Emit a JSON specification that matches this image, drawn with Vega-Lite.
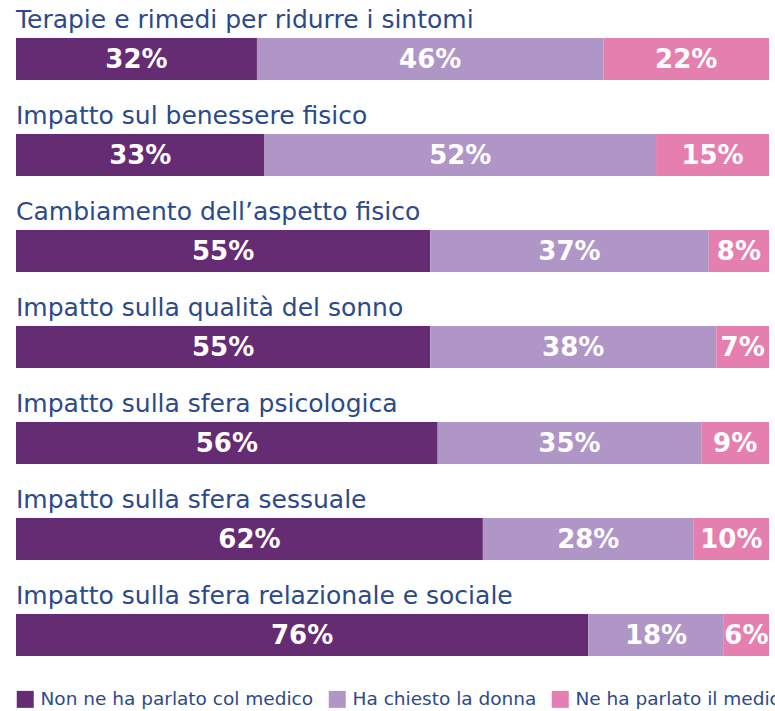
{
  "$schema": "https://vega.github.io/schema/vega-lite/v6.json",
  "width": 753,
  "height": 618,
  "autosize": {"type": "none"},
  "padding": {"left": 16, "top": 38, "right": 6, "bottom": 55},
  "background": "white",
  "data": {"values": [
    {"item": "Terapie e rimedi per ridurre i sintomi", "cat": "Non ne ha parlato col medico", "ord": 1, "value": 0.32},
    {"item": "Terapie e rimedi per ridurre i sintomi", "cat": "Ha chiesto la donna", "ord": 2, "value": 0.46},
    {"item": "Terapie e rimedi per ridurre i sintomi", "cat": "Ne ha parlato il medico", "ord": 3, "value": 0.22},
    {"item": "Impatto sul benessere fisico", "cat": "Non ne ha parlato col medico", "ord": 1, "value": 0.33},
    {"item": "Impatto sul benessere fisico", "cat": "Ha chiesto la donna", "ord": 2, "value": 0.52},
    {"item": "Impatto sul benessere fisico", "cat": "Ne ha parlato il medico", "ord": 3, "value": 0.15},
    {"item": "Cambiamento dell’aspetto fisico", "cat": "Non ne ha parlato col medico", "ord": 1, "value": 0.55},
    {"item": "Cambiamento dell’aspetto fisico", "cat": "Ha chiesto la donna", "ord": 2, "value": 0.37},
    {"item": "Cambiamento dell’aspetto fisico", "cat": "Ne ha parlato il medico", "ord": 3, "value": 0.08},
    {"item": "Impatto sulla qualità del sonno", "cat": "Non ne ha parlato col medico", "ord": 1, "value": 0.55},
    {"item": "Impatto sulla qualità del sonno", "cat": "Ha chiesto la donna", "ord": 2, "value": 0.38},
    {"item": "Impatto sulla qualità del sonno", "cat": "Ne ha parlato il medico", "ord": 3, "value": 0.07},
    {"item": "Impatto sulla sfera psicologica", "cat": "Non ne ha parlato col medico", "ord": 1, "value": 0.56},
    {"item": "Impatto sulla sfera psicologica", "cat": "Ha chiesto la donna", "ord": 2, "value": 0.35},
    {"item": "Impatto sulla sfera psicologica", "cat": "Ne ha parlato il medico", "ord": 3, "value": 0.09},
    {"item": "Impatto sulla sfera sessuale", "cat": "Non ne ha parlato col medico", "ord": 1, "value": 0.62},
    {"item": "Impatto sulla sfera sessuale", "cat": "Ha chiesto la donna", "ord": 2, "value": 0.28},
    {"item": "Impatto sulla sfera sessuale", "cat": "Ne ha parlato il medico", "ord": 3, "value": 0.10},
    {"item": "Impatto sulla sfera relazionale e sociale", "cat": "Non ne ha parlato col medico", "ord": 1, "value": 0.76},
    {"item": "Impatto sulla sfera relazionale e sociale", "cat": "Ha chiesto la donna", "ord": 2, "value": 0.18},
    {"item": "Impatto sulla sfera relazionale e sociale", "cat": "Ne ha parlato il medico", "ord": 3, "value": 0.06}
  ]},
  "transform": [
    {"stack": "value", "groupby": ["item"], "sort": [{"field": "ord", "order": "ascending"}], "as": ["v0", "v1"]},
    {"calculate": "(datum.v0 + datum.v1) / 2", "as": "mid"}
  ],
  "encoding": {
    "y": {"field": "item", "type": "nominal", "sort": null, "axis": null,
          "scale": {"paddingInner": 0.5625, "paddingOuter": 0}}
  },
  "layer": [
    {
      "mark": {"type": "bar"},
      "encoding": {
        "x": {"field": "v0", "type": "quantitative", "axis": null, "scale": {"domain": [0, 1], "nice": false}},
        "x2": {"field": "v1"},
        "color": {"field": "cat", "type": "nominal", "sort": ["Non ne ha parlato col medico", "Ha chiesto la donna", "Ne ha parlato il medico"],
          "scale": {"domain": ["Non ne ha parlato col medico", "Ha chiesto la donna", "Ne ha parlato il medico"], "range": ["#652C74", "#B096C6", "#E57FB0"]},
          "legend": {"title": null, "orient": "bottom", "direction": "horizontal", "symbolType": "square", "symbolSize": 289,
            "symbolStrokeWidth": 0, "labelFontSize": 18.5, "labelFont": "DejaVu Sans", "labelColor": "#2C4A8A", "labelOffset": 6,
            "columnPadding": 14, "offset": 34, "labelLimit": 400, "padding": 0}
        }
      }
    },
    {
      "mark": {"type": "text", "color": "white", "font": "DejaVu Sans", "fontWeight": "bold", "fontSize": 26, "baseline": "middle", "align": "center", "dy": 1},
      "encoding": {
        "x": {"field": "mid", "type": "quantitative"},
        "text": {"field": "value", "type": "quantitative", "format": ".0%"}
      }
    },
    {
      "mark": {"type": "text", "color": "#2C4A8A", "font": "DejaVu Sans", "fontSize": 25, "baseline": "alphabetic", "align": "left", "dy": -31},
      "encoding": {
        "x": {"datum": 0, "type": "quantitative"},
        "text": {"field": "item"}
      },
      "transform": [{"filter": "datum.ord == 1"}]
    }
  ],
  "config": {"view": {"stroke": null}}
}
